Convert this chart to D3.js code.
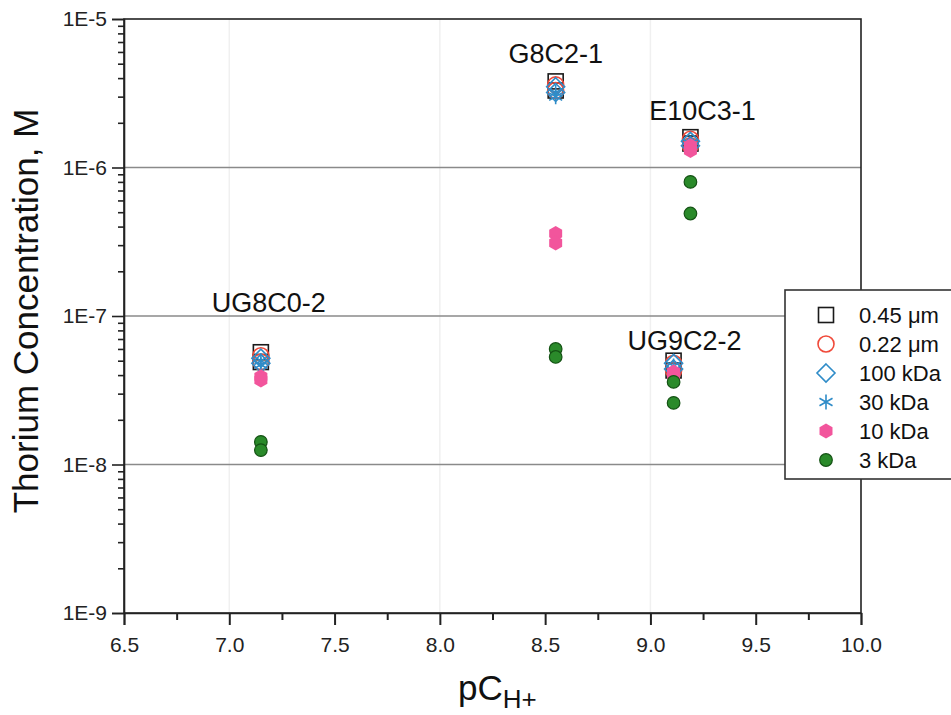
<!DOCTYPE html>
<html><head><meta charset="utf-8">
<script src="https://cdn.jsdelivr.net/npm/d3@7"></script>
<style>body{margin:0;background:#fff;}svg{display:block;font-family:"Liberation Sans",Arial,sans-serif;}</style>
</head><body>
<svg id="c" width="951" height="715"></svg>
<script>
// ---- data ----
const samples = ["UG8C0-2", "G8C2-1", "UG9C2-2", "E10C3-1"];
const pCH = [7.15, 8.55, 9.11, 9.19];
// two replicate values per sample, per filter size
const s045um = [[5.7e-8, 4.9e-8], [3.8e-6, 3.3e-6], [5.0e-8, 4.3e-8], [1.6e-6, 1.45e-6]];
const s022um = [[5.4e-8, 4.9e-8], [3.6e-6, 3.3e-6], [4.8e-8, 4.3e-8], [1.55e-6, 1.4e-6]];
const s100kDa = [[5.2e-8, 4.8e-8], [3.5e-6, 3.2e-6], [4.8e-8, 4.4e-8], [1.5e-6, 1.4e-6]];
const s30kDa = [[5.0e-8, 4.7e-8], [3.2e-6, 3.0e-6], [4.6e-8, 4.3e-8], [1.45e-6, 1.35e-6]];
const s10kDa = [[3.9e-8, 3.7e-8], [3.6e-7, 3.1e-7], [4.2e-8, 4.0e-8], [1.4e-6, 1.3e-6]];
const s3kDa = [[1.42e-8, 1.25e-8], [6.0e-8, 5.3e-8], [3.6e-8, 2.6e-8], [8.0e-7, 4.9e-7]];
const seriesNames = ["0.45 \u03bcm", "0.22 \u03bcm", "100 kDa", "30 kDa", "10 kDa", "3 kDa"];
const xTicks = [6.5, 7.0, 7.5, 8.0, 8.5, 9.0, 9.5, 10.0];
const yTicks = [1e-9, 1e-8, 1e-7, 1e-6, 1e-5];
const yTickLabels = ["1E-9", "1E-8", "1E-7", "1E-6", "1E-5"];

// ---- setup ----
const svg = d3.select("#c");
const X0 = 124, X1 = 861, Y0 = 613, Y1 = 19;
const x = d3.scaleLinear().domain([6.5, 10]).range([X0, X1]);
const y = d3.scaleLog().domain([1e-9, 1e-5]).range([Y0, Y1]);

// faint vertical grid
svg.append("g").selectAll("line").data([7.0, 8.0, 9.0]).join("line")
  .attr("x1", d => x(d)).attr("x2", d => x(d)).attr("y1", Y1).attr("y2", Y0)
  .attr("stroke", "#f0f0f0").attr("stroke-width", 1.5);
// horizontal grid
svg.append("g").selectAll("line").data([1e-8, 1e-7, 1e-6]).join("line")
  .attr("x1", X0).attr("x2", X1).attr("y1", d => y(d)).attr("y2", d => y(d))
  .attr("stroke", "#8a8a8a").attr("stroke-width", 1.3);

// frame
svg.append("rect").attr("x", X0).attr("y", Y1).attr("width", X1 - X0).attr("height", Y0 - Y1)
  .attr("fill", "none").attr("stroke", "#222").attr("stroke-width", 1.6);

// x axis
const xMinor = d3.range(6.75, 10, 0.5);
svg.append("g").attr("transform", `translate(0,${Y0})`)
  .call(d3.axisBottom(x).tickValues(xTicks).tickFormat(d3.format(".1f")).tickSize(12).tickPadding(12))
  .call(g => g.select(".domain").attr("stroke-width", 1.6).attr("stroke", "#222"))
  .call(g => g.selectAll(".tick line").attr("stroke-width", 2).attr("stroke", "#222"))
  .call(g => g.selectAll("text").attr("font-size", 21).attr("fill", "#222").attr("font-family", "Liberation Sans, Arial, sans-serif"));
svg.append("g").attr("transform", `translate(0,${Y0})`)
  .call(d3.axisBottom(x).tickValues(xMinor).tickFormat("").tickSize(7))
  .call(g => g.select(".domain").remove())
  .call(g => g.selectAll(".tick line").attr("stroke-width", 2).attr("stroke", "#222"));

// y axis
const yMinor = [];
[1e-9, 1e-8, 1e-7, 1e-6].forEach(d => { for (let k = 2; k <= 9; k++) yMinor.push(d * k); });
svg.append("g").attr("transform", `translate(${X0},0)`)
  .call(d3.axisLeft(y).tickValues(yTicks).tickFormat((d, i) => yTickLabels[i]).tickSize(12).tickPadding(5))
  .call(g => g.select(".domain").attr("stroke-width", 1.6).attr("stroke", "#222"))
  .call(g => g.selectAll(".tick line").attr("stroke-width", 1.6).attr("stroke", "#222"))
  .call(g => g.selectAll("text").attr("font-size", 21).attr("fill", "#222").attr("font-family", "Liberation Sans, Arial, sans-serif"));
svg.append("g").attr("transform", `translate(${X0},0)`)
  .call(d3.axisLeft(y).tickValues(yMinor).tickFormat("").tickSize(6))
  .call(g => g.select(".domain").remove())
  .call(g => g.selectAll(".tick line").attr("stroke-width", 1.6).attr("stroke", "#222"));

// axis titles
svg.append("text").attr("transform", "translate(38,311) rotate(-90)")
  .attr("text-anchor", "middle").attr("font-size", 35).attr("fill", "#111")
  .text("Thorium Concentration, M");
const xt = svg.append("text").attr("x", 458).attr("y", 700).attr("font-size", 35).attr("fill", "#111");
xt.append("tspan").text("pC");
xt.append("tspan").attr("dy", 8).attr("font-size", 26).text("H+");

// ---- markers ----
const sym = (type, size) => d3.symbol().type(type).size(size)();
const hexPath = r => { const p = []; for (let i = 0; i < 6; i++) { const a = Math.PI / 6 + i * Math.PI / 3; p.push([r * Math.cos(a), r * Math.sin(a)]); } return "M" + p.join("L") + "Z"; };
const styles = [
  { data: s045um, draw: g => g.append("rect").attr("x", -7.5).attr("y", -7.5).attr("width", 15).attr("height", 15).attr("fill", "none").attr("stroke", "#1a1a1a").attr("stroke-width", 1.6) },
  { data: s022um, draw: g => g.append("circle").attr("r", 8).attr("fill", "none").attr("stroke", "#f04a3a").attr("stroke-width", 1.6) },
  { data: s100kDa, draw: g => g.append("path").attr("d", "M0,-9L9,0L0,9L-9,0Z").attr("fill", "none").attr("stroke", "#2f8cc8").attr("stroke-width", 1.6) },
  { data: s30kDa, draw: g => g.append("path").attr("d", sym(d3.symbolAsterisk, 160)).attr("fill", "none").attr("stroke", "#2f8cc8").attr("stroke-width", 1.6) },
  { data: s10kDa, draw: g => g.append("path").attr("d", hexPath(7.5)).attr("fill", "#f2559c").attr("stroke", "none") },
  { data: s3kDa, draw: g => g.append("circle").attr("r", 6.3).attr("fill", "#2a8a2a").attr("stroke", "#145214").attr("stroke-width", 1.2) }
];
const mg = svg.append("g");
styles.forEach(s => {
  s.data.forEach((reps, i) => reps.forEach(v => {
    const g = mg.append("g").attr("transform", `translate(${x(pCH[i])},${y(v)})`);
    s.draw(g);
  }));
});

// sample labels (anchored to each sample's highest value)
const labelDX = [8, 0, 11, 12];
const labelDY = [-40, -18, -11, -17];
samples.forEach((name, i) => {
  const top = d3.max([s045um, s022um, s100kDa, s30kDa, s10kDa, s3kDa], a => d3.max(a[i]));
  svg.append("text").attr("x", x(pCH[i]) + labelDX[i]).attr("y", y(top) + labelDY[i])
    .attr("text-anchor", "middle").attr("font-size", 27).attr("fill", "#111").text(name);
});

// ---- legend ----
const lg = svg.append("g").attr("transform", "translate(785,290)");
lg.append("rect").attr("width", 180).attr("height", 189).attr("fill", "#fff").attr("stroke", "#333").attr("stroke-width", 1.6);
seriesNames.forEach((n, i) => {
  const g = lg.append("g").attr("transform", `translate(41,${25 + i * 29})`);
  styles[i].draw(g);
  lg.append("text").attr("x", 74).attr("y", 25 + i * 29).attr("dy", "0.36em").attr("font-size", 22).attr("fill", "#111").text(n);
});
</script>
</body></html>
